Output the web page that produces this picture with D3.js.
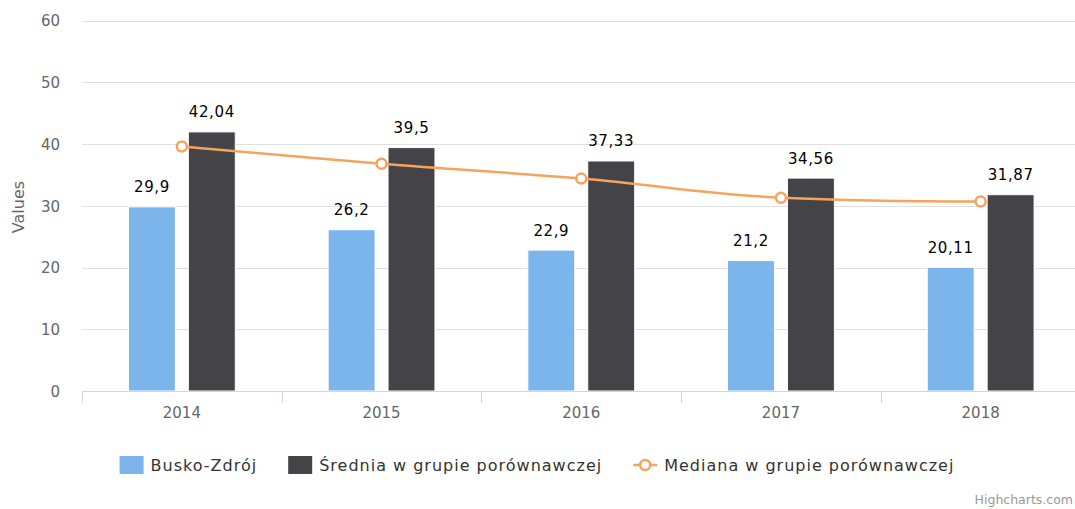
<!DOCTYPE html>
<html>
<head>
<meta charset="utf-8">
<script src="https://cdn.jsdelivr.net/npm/d3@7"></script>
<style>
  html, body { margin: 0; padding: 0; background: #fff; overflow: hidden; }
  svg { display: block; font-family: "DejaVu Sans", Verdana, sans-serif; }
</style>
</head>
<body>
<svg id="chart" width="1075" height="509"></svg>
<script>
// ---- data ----
const categories = ["2014", "2015", "2016", "2017", "2018"];
const seriesNames = ["Busko-Zdrój", "Średnia w grupie porównawczej", "Mediana w grupie porównawczej"];
const buskoValues = [29.9, 26.2, 22.9, 21.2, 20.11];
const sredniaValues = [42.04, 39.5, 37.33, 34.56, 31.87];
const medianaValues = [39.6, 36.8, 34.4, 31.3, 30.7];
const yTicks = [0, 10, 20, 30, 40, 50, 60];
const yTitle = "Values";
const credits = "Highcharts.com";

const colors = ["#7cb5ec", "#434348", "#f7a35c"];

const svg = d3.select("#chart");
const plotLeft = 82, plotRight = 1080.5, plotTop = 20.5, plotBottom = 391;

const x = d3.scaleBand().domain(categories).range([plotLeft, plotRight]).paddingInner(0).paddingOuter(0);
const barSeries = [buskoValues, sredniaValues];
const xSub = d3.scaleBand().domain([0, 1]).range([0.2 * x.bandwidth(), 0.8 * x.bandwidth()])
  .paddingInner(0.2).paddingOuter(0.1);
const y = d3.scaleLinear().domain([0, 60]).range([plotBottom, plotTop]);

const fmt = v => String(v).replace(".", ",");

// gridlines
const grid = svg.append("g");
grid.selectAll("line").data(yTicks.filter(t => t !== 0)).join("line")
  .attr("x1", plotLeft).attr("x2", plotRight)
  .attr("y1", d => Math.round(y(d)) + 0.5).attr("y2", d => Math.round(y(d)) + 0.5)
  .attr("stroke", "#e0e0e0").attr("stroke-width", 1);

// y axis labels
const yAxis = d3.axisLeft(y).tickValues(yTicks).tickSize(0).tickPadding(0);
const yg = svg.append("g").attr("transform", `translate(60,0)`).call(yAxis);
yg.select(".domain").remove();
yg.selectAll("text").attr("font-size", "15px").attr("fill", "#666").attr("font-family", "DejaVu Sans")
  .attr("dy", "0.36em");

// y title
svg.append("text").attr("transform", `translate(24,207) rotate(-90)`)
  .attr("text-anchor", "middle").attr("font-size", "16px").attr("fill", "#666").text(yTitle);

// bars
barSeries.forEach((vals, si) => {
  svg.append("g").selectAll("rect").data(vals).join("rect")
    .attr("x", (d, i) => x(categories[i]) + xSub(si) + 0.5)
    .attr("y", d => y(d) + 0.5)
    .attr("width", xSub.bandwidth() - 1)
    .attr("height", d => plotBottom - y(d) - 0.5)
    .attr("fill", colors[si]).attr("stroke", "#fff").attr("stroke-width", 1);
});

// x axis
const xg = svg.append("g").attr("transform", `translate(0,${plotBottom})`)
  .call(d3.axisBottom(x).tickSize(0).tickPadding(0));
xg.select(".domain").remove();
xg.selectAll("text").attr("font-size", "15px").attr("fill", "#666").attr("font-family", "DejaVu Sans")
  .attr("dy", "0").attr("y", 27);
svg.append("line").attr("x1", plotLeft).attr("x2", plotRight)
  .attr("y1", plotBottom + 0.5).attr("y2", plotBottom + 0.5).attr("stroke", "#ccd6eb");
const tickPos = categories.map(c => x(c)).concat([plotRight]);
svg.append("g").selectAll("line").data(tickPos).join("line")
  .attr("x1", d => Math.round(d) + 0.5).attr("x2", d => Math.round(d) + 0.5)
  .attr("y1", plotBottom).attr("y2", plotBottom + 12).attr("stroke", "#ccd6eb");

// spline (Highcharts-like)
const pts = medianaValues.map((v, i) => ({ x: x(categories[i]) + x.bandwidth() / 2, y: y(v) }));
function splinePath(points) {
  const s = 1.5, den = s + 1;
  let d = `M${points[0].x},${points[0].y}`;
  for (let i = 1; i < points.length; i++) {
    const p = points[i], last = points[i - 1], next = points[i + 1];
    let lcx = p.x, lcy = p.y;
    if (next) {
      lcx = (s * p.x + last.x) / den; lcy = (s * p.y + last.y) / den;
      let rcx = (s * p.x + next.x) / den, rcy = (s * p.y + next.y) / den;
      const corr = ((rcy - lcy) * (rcx - p.x)) / (rcx - lcx) + p.y - rcy;
      lcy += corr; rcy += corr;
      if (lcy > last.y && lcy > p.y) { lcy = Math.max(last.y, p.y); rcy = 2 * p.y - lcy; }
      else if (lcy < last.y && lcy < p.y) { lcy = Math.min(last.y, p.y); rcy = 2 * p.y - lcy; }
      if (rcy > next.y && rcy > p.y) { rcy = Math.max(next.y, p.y); lcy = 2 * p.y - rcy; }
      else if (rcy < next.y && rcy < p.y) { rcy = Math.min(next.y, p.y); lcy = 2 * p.y - rcy; }
      p.rcx = rcx; p.rcy = rcy;
    }
    const c1x = last.rcx !== undefined ? last.rcx : last.x;
    const c1y = last.rcy !== undefined ? last.rcy : last.y;
    d += `C${c1x},${c1y},${lcx},${lcy},${p.x},${p.y}`;
  }
  return d;
}
svg.append("path").attr("d", splinePath(pts)).attr("fill", "none")
  .attr("stroke", colors[2]).attr("stroke-width", 2.5);
svg.append("g").selectAll("circle").data(pts).join("circle")
  .attr("cx", d => d.x).attr("cy", d => d.y).attr("r", 5)
  .attr("fill", "#fff").attr("stroke", colors[2]).attr("stroke-width", 2.5);

// data labels
barSeries.forEach((vals, si) => {
  svg.append("g").selectAll("text").data(vals).join("text")
    .attr("x", (d, i) => x(categories[i]) + xSub(si) + xSub.bandwidth() / 2)
    .attr("y", d => y(d) - 14)
    .attr("text-anchor", "middle").attr("font-size", "15px").attr("fill", "#000")
    .attr("letter-spacing", "0.6px")
    .text(d => fmt(d));
});

// legend
const leg = svg.append("g");
let cursor = 0;
seriesNames.forEach((name, i) => {
  const g = leg.append("g");
  if (i < 2) {
    g.append("rect").attr("x", 0).attr("y", -9).attr("width", 24).attr("height", 18).attr("fill", colors[i]);
  } else {
    g.append("line").attr("x1", 0).attr("x2", 24).attr("y1", 0).attr("y2", 0)
      .attr("stroke", colors[2]).attr("stroke-width", 2.5);
    g.append("circle").attr("cx", 12).attr("cy", 0).attr("r", 5)
      .attr("fill", "#fff").attr("stroke", colors[2]).attr("stroke-width", 2.5);
  }
  const t = g.append("text").attr("x", 31).attr("y", 6).attr("font-size", "16px")
    .attr("fill", "#333").attr("letter-spacing", "1px").text(name);
  const w = 31 + t.node().getBBox().width;
  g.attr("transform", `translate(${cursor},465)`);
  cursor += w + 31;
});
const total = cursor - 31;
leg.attr("transform", `translate(${537 - total / 2},0)`);

// credits
svg.append("text").attr("x", 1073).attr("y", 504).attr("text-anchor", "end")
  .attr("font-size", "12.5px").attr("fill", "#999")
  .text(credits);
</script>
</body>
</html>
